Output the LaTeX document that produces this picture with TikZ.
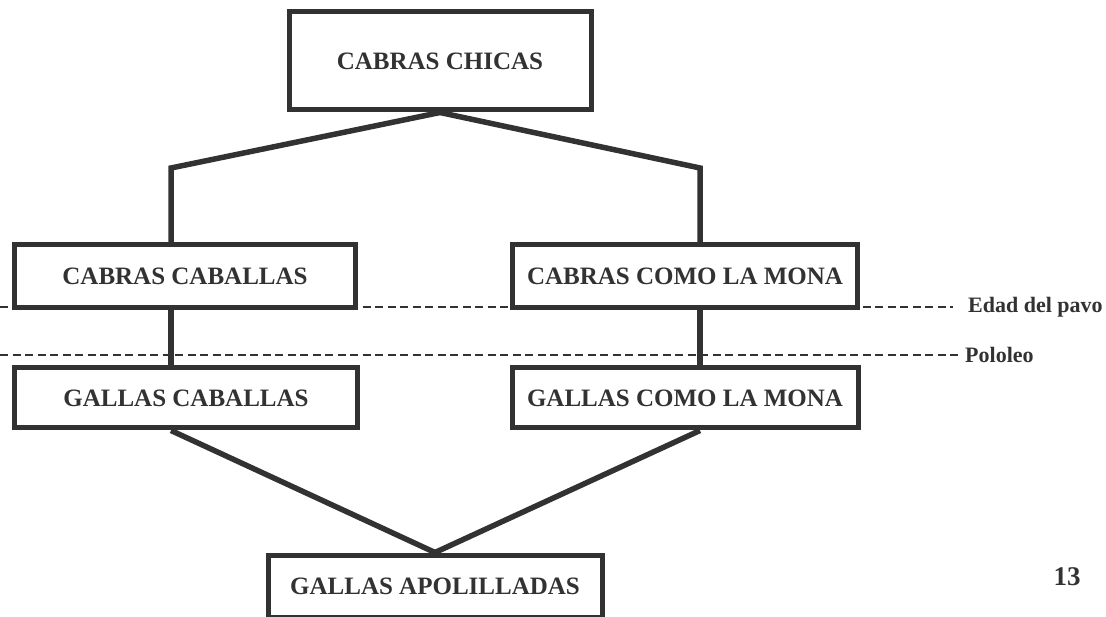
\documentclass[tikz,border=0pt]{standalone}
\usepackage{fontspec}
\setmainfont{Liberation Serif}
\definecolor{ink}{RGB}{50,50,50}

\begin{document}
\begin{tikzpicture}[x=1pt,y=-1pt,
  stage/.style={draw=ink, line width=5pt, fill=white, text=ink, inner sep=0pt,
    font=\fontsize{25}{30}\selectfont\bfseries},
  link/.style={draw=ink, line width=5.5pt},
  phase/.style={draw=ink, line width=2pt, dash pattern=on 8pt off 4.5pt},
  phaselabel/.style={text=ink, anchor=west, inner sep=0pt,
    font=\fontsize{22}{26}\selectfont\bfseries}]
\useasboundingbox (0,0) rectangle (1106,617);

% dashed lines for the phases
\coordinate (edadstart) at (0,307);
\node [phaselabel] (edad) at (968,307) {Edad del pavo};
\draw [phase] (edadstart) -- ([xshift=-15pt]edad.west);

\coordinate (pololeostart) at (0,355);
\node [phaselabel] (pololeo) at (965,355) {Pololeo};
\draw [phase] (pololeostart) -- ([xshift=-5pt]pololeo.west);

% the boxes
\node [stage, minimum width=302pt, minimum height=98pt] (chicas) at (440,61) {CABRAS CHICAS};

\node [stage, minimum width=341pt, minimum height=63pt] (cabcab) at (185,276) {CABRAS CABALLAS};
\node [stage, minimum width=345pt, minimum height=63pt] (cabmona) at (685,276) {CABRAS COMO LA MONA};

\node [stage, minimum width=343pt, minimum height=60pt] (galcab) at (186,398) {GALLAS CABALLAS};
\node [stage, minimum width=346pt, minimum height=60pt] (galmona) at (685,398) {GALLAS COMO LA MONA};

\node [stage, minimum width=334pt, minimum height=62pt] (apol) at (435,586) {GALLAS APOLILLADAS};

% connectors
\coordinate (kinkl) at (171,168);
\coordinate (kinkr) at (700,168);

\draw [link] (chicas.south) -- (kinkl) -- (kinkl |- cabcab.north);
\draw [link] (chicas.south) -- (kinkr) -- (kinkr |- cabmona.north);

\draw [link] (cabcab.south -| kinkl) -- (galcab.north -| kinkl);
\draw [link] (cabmona.south -| kinkr) -- (galmona.north -| kinkr);

\draw [link] (galcab.south -| kinkl) -- (apol.north);
\draw [link] (galmona.south -| kinkr) -- (apol.north);

% page number
\node [text=ink, font=\fontsize{27}{30}\selectfont\bfseries] (page) at (1067,577) {13};
\end{tikzpicture}
\end{document}
